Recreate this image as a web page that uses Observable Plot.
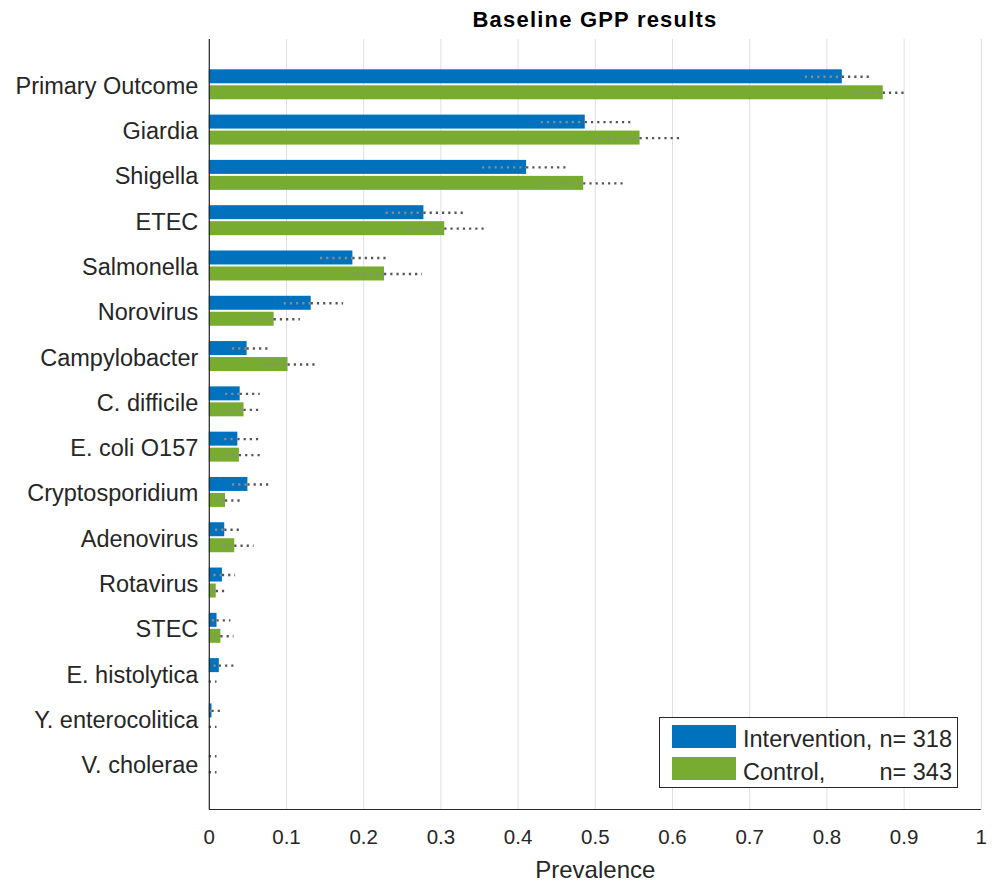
<!DOCTYPE html>
<html>
<head>
<meta charset="utf-8">
<script src="https://cdn.jsdelivr.net/npm/d3@7"></script>
<script src="https://cdn.jsdelivr.net/npm/@observablehq/plot@0.6"></script>
<style>
  body { margin: 0; background: #fff; }
  #wrap { position: relative; width: 994px; height: 881px; font-family: "Liberation Sans", Arial, sans-serif; overflow: hidden; }
  #title { height: 39px; line-height: 39px; font-weight: bold; font-size: 22px; letter-spacing: 1.2px; text-align: center; padding-left: 209px; padding-right: 13px; color: #000; box-sizing: border-box; width: 994px; }
  #legend { position: absolute; left: 659px; top: 717px; width: 297px; height: 69px; border: 1px solid #262626; background: #fff; font-size: 23.5px; color: #262626; }
  #legend .sw { position: absolute; left: 12px; width: 64px; height: 23px; }
  #legend .lab { position: absolute; left: 83px; line-height: 24px; white-space: nowrap; }
  #legend .n { position: absolute; right: 5px; line-height: 24px; white-space: nowrap; }
</style>
</head>
<body>
<div id="wrap">
  <div id="title"></div>
  <div id="chart"></div>
  <div id="legend"></div>
</div>
<script>
const title = "Baseline GPP results";
const xLabel = "Prevalence";
const categories = ["Primary Outcome", "Giardia", "Shigella", "ETEC", "Salmonella", "Norovirus",
  "Campylobacter", "C. difficile", "E. coli O157", "Cryptosporidium", "Adenovirus", "Rotavirus",
  "STEC", "E. histolytica", "Y. enterocolitica", "V. cholerae"];
const seriesNames = ["Intervention", "Control"];
const seriesN = [318, 343];
const seriesColors = ["#0072BD", "#77AC30"];

const intervention   = [0.820, 0.487, 0.411, 0.278, 0.186, 0.132, 0.049, 0.040, 0.037, 0.050, 0.020, 0.017, 0.010, 0.013, 0.0035, 0.0];
const interventionLo = [0.772, 0.430, 0.354, 0.229, 0.144, 0.097, 0.030, 0.021, 0.020, 0.030, 0.008, 0.006, 0.004, 0.006, 0.0, 0.0];
const interventionHi = [0.857, 0.546, 0.464, 0.332, 0.234, 0.174, 0.081, 0.066, 0.064, 0.080, 0.043, 0.034, 0.028, 0.032, 0.018, 0.010];
const control   = [0.873, 0.558, 0.485, 0.305, 0.227, 0.084, 0.102, 0.045, 0.039, 0.021, 0.033, 0.009, 0.015, 0.0, 0.0, 0.0];
const controlLo = [0.834, 0.501, 0.430, 0.256, 0.184, 0.058, 0.073, 0.025, 0.022, 0.009, 0.018, 0.004, 0.006, 0.0, 0.0, 0.0];
const controlHi = [0.902, 0.611, 0.540, 0.358, 0.276, 0.118, 0.139, 0.069, 0.066, 0.043, 0.058, 0.021, 0.032, 0.010, 0.010, 0.010];

const xTicks = [0, 0.1, 0.2, 0.3, 0.4, 0.5, 0.6, 0.7, 0.8, 0.9, 1];

document.getElementById("title").textContent = title;

const series = [
  {name: seriesNames[0], v: intervention, lo: interventionLo, hi: interventionHi, side: -1},
  {name: seriesNames[1], v: control, lo: controlLo, hi: controlHi, side: 1}
];
const rows = series.flatMap(s => categories.map((c, i) => ({
  cat: c, pos: i + 1, v: s.v[i], lo: s.lo[i], hi: s.hi[i], group: s.name, side: s.side
})));

const inner = 0.022, outer = 0.331;
const errY = d => d.pos + d.side * (outer + inner) / 2;
const chart = Plot.plot({
  width: 994,
  height: 842,
  marginTop: 0,
  marginBottom: 72,
  marginLeft: 208.8,
  marginRight: 13.2,
  style: {fontFamily: "'Liberation Sans', Arial, sans-serif", color: "#262626", background: "white"},
  x: {domain: [0, 1]},
  y: {domain: [17, 0]},
  color: {domain: seriesNames, range: seriesColors},
  marks: [
    Plot.gridX(xTicks, {stroke: "#262626", strokeOpacity: 0.15, strokeWidth: 1}),
    Plot.rectX(rows, {
      x1: d => 0, x2: "v",
      y1: d => d.pos + (d.side < 0 ? -outer : inner),
      y2: d => d.pos + (d.side < 0 ? -inner : outer),
      fill: "group"
    }),
    // lower half of the interval (drawn over the bar)
    Plot.ruleY(rows.filter(d => d.v > d.lo), {
      y: errY, x1: "lo", x2: "v",
      stroke: "#8c8c8c", strokeWidth: 2.4, strokeDasharray: "2.2,4"
    }),
    // upper half of the interval
    Plot.ruleY(rows, {
      y: errY, x1: "v", x2: "hi",
      stroke: "#555555", strokeWidth: 2.4, strokeDasharray: "2.2,4"
    }),
    Plot.ruleX([0], {stroke: "#262626", strokeWidth: 1.2}),
    Plot.ruleY([17], {stroke: "#262626", strokeWidth: 1.2}),
    Plot.axisX(xTicks, {tickSize: 0, tickPadding: 20, fontSize: 20.5, tickFormat: d => String(+d.toFixed(1)), label: null}),
    Plot.axisX([], {label: xLabel, labelAnchor: "center", labelArrow: "none", labelOffset: 68, fontSize: 24}),
    Plot.axisY(d3.range(1, categories.length + 1), {tickSize: 0, tickPadding: 11, fontSize: 23.5, dy: 1.5, tickFormat: d => categories[d - 1], label: null})
  ]
});
document.getElementById("chart").appendChild(chart);

const legend = document.getElementById("legend");
const tops = [7, 39];
const textTops = [9, 42];
const labelTexts = [seriesNames[0] + ",", seriesNames[1] + ","];
series.forEach((s, i) => {
  const sw = document.createElement("div");
  sw.className = "sw";
  sw.style.top = tops[i] + "px";
  sw.style.background = seriesColors[i];
  legend.appendChild(sw);
  const lab = document.createElement("span");
  lab.className = "lab";
  lab.style.top = textTops[i] + "px";
  lab.textContent = labelTexts[i];
  legend.appendChild(lab);
  const n = document.createElement("span");
  n.className = "n";
  n.style.top = textTops[i] + "px";
  n.textContent = "n= " + seriesN[i];
  legend.appendChild(n);
});
</script>
</body>
</html>
